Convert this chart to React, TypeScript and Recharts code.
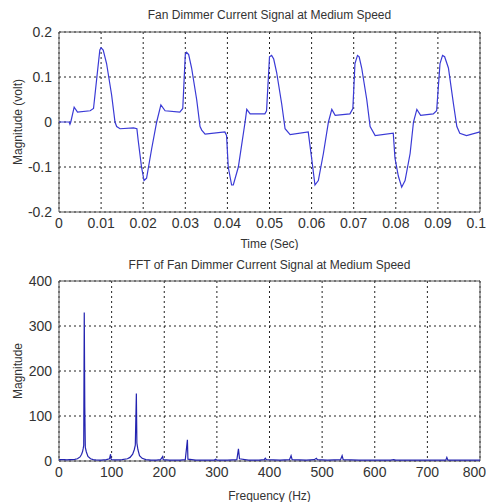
import { LineChart, Line, XAxis, YAxis, CartesianGrid, ReferenceArea } from "recharts";

// time-domain signal
const timeSec = [
  0, 0.0024, 0.0026, 0.0028, 0.0036, 0.0044, 0.0074, 0.0082, 0.009, 0.0097, 0.01, 0.0105, 0.0113, 0.0125, 0.0133, 0.0137,
  0.0145, 0.0177, 0.0185, 0.0188, 0.0196, 0.0202, 0.0208, 0.022, 0.0232, 0.0242, 0.0252, 0.0287, 0.0294, 0.03,
  0.0303, 0.0308, 0.0315, 0.0327, 0.0335, 0.0339, 0.0347, 0.0394, 0.0398, 0.0402, 0.041, 0.0414, 0.0426, 0.0442, 0.0446,
  0.0454, 0.0489, 0.0493, 0.05, 0.0505, 0.051, 0.0517, 0.0529, 0.0537, 0.0549, 0.0592, 0.06, 0.0608, 0.0616, 0.0628,
  0.064, 0.0648, 0.0656, 0.0691, 0.0698, 0.0703, 0.0709, 0.0713, 0.0719, 0.0731, 0.0739, 0.0751, 0.0794, 0.0798, 0.0806,
  0.0814, 0.0822, 0.0834, 0.0842, 0.085, 0.0859, 0.0889, 0.0897, 0.0905, 0.0911, 0.0916, 0.0925, 0.0937, 0.0945, 0.0952,
  0.0968, 0.1,
];
const volts = [
  0, 0, -0.005, 0, 0.033, 0.022, 0.025, 0.03, 0.1, 0.16, 0.165, 0.16, 0.13, 0.06, 0, -0.01,
  -0.015, -0.013, -0.015, -0.04, -0.1, -0.13, -0.125, -0.06, 0, 0.038, 0.025, 0.022, 0.03, 0.15,
  0.155, 0.15, 0.12, 0.05, -0.01, -0.018, -0.027, -0.022, -0.03, -0.1, -0.14, -0.14, -0.1, 0, 0.028,
  0.018, 0.018, 0.025, 0.145, 0.148, 0.14, 0.11, 0.04, -0.015, -0.028, -0.022, -0.08, -0.14, -0.13, -0.07,
  0, 0.028, 0.015, 0.018, 0.03, 0.13, 0.148, 0.145, 0.12, 0.05, -0.01, -0.03, -0.025, -0.08, -0.12,
  -0.145, -0.13, -0.07, 0, 0.028, 0.015, 0.018, 0.025, 0.13, 0.148, 0.145, 0.12, 0.04, -0.01, -0.025,
  -0.03, -0.022,
];

// spectrum
const freqHz = [
  0, 5, 10, 15, 20, 25, 30, 35, 40, 43, 45, 46, 47, 48, 49, 50, 52, 55, 60, 65, 70, 80, 90, 96, 98, 99, 100, 110,
  120, 130, 135, 140, 143, 145, 147, 148, 150, 153, 158, 165, 175, 185, 193, 197, 198, 210, 230, 240, 244, 245,
  260, 280, 295, 298, 300, 320, 338, 341, 343, 360, 380, 390, 392, 394, 420, 438, 441, 443, 470, 485, 489, 491,
  510, 535, 538, 540, 570, 600, 630, 636, 640, 680, 700, 735, 737, 739, 770, 800,
];
const fftMag = [
  3, 3, 3, 2.5, 3, 3, 3.5, 5, 9, 15, 22, 28, 35, 330, 120, 30, 20, 10, 5, 3, 2.5, 2, 3, 5, 15, 4, 3, 2.5,
  3, 5, 8, 15, 25, 35, 150, 40, 25, 12, 6, 3, 2, 2, 3, 10, 3, 2, 2, 3, 47, 4,
  2, 2, 2, 4, 2, 2, 3, 27, 5, 2, 2, 3, 6, 3, 2, 3, 12, 3, 2, 3, 6, 3,
  2, 3, 12, 3, 2, 2, 2, 3, 2, 2, 2, 2, 8, 2, 2, 2,
];

const timeTicks = [0, 0.01, 0.02, 0.03, 0.04, 0.05, 0.06, 0.07, 0.08, 0.09, 0.1];
const voltTicks = [-0.2, -0.1, 0, 0.1, 0.2];
const freqTicks = [0, 100, 200, 300, 400, 500, 600, 700, 800];
const magTicks = [0, 100, 200, 300, 400];

const signalData = timeSec.map((t, i) => ({ t, v: volts[i] }));
const fftData = freqHz.map((f, i) => ({ f, m: fftMag[i] }));

const FONT_NARROW = "'Liberation Sans Narrow', 'Liberation Sans', Arial, sans-serif";
const tickFont = { fill: "#333", fontSize: 14, fontFamily: FONT_NARROW };
const labelFont = { fill: "#333", fontSize: 12, fontFamily: "'Liberation Sans', Arial, sans-serif" };

// x tick that keeps the last label inside the picture
const makeXTick = (last: number) => (props: any) => {
  const { x, y, payload } = props;
  const isLast = payload.value === last;
  return (
    <text
      x={isLast ? 486 : x}
      y={y}
      dy="0.71em"
      textAnchor={isLast ? "end" : "middle"}
      fill={tickFont.fill}
      fontSize={tickFont.fontSize}
      fontFamily={FONT_NARROW}
    >
      {String(payload.value)}
    </text>
  );
};

const titleStyle = (top: number) => ({
  position: "absolute" as const,
  top,
  left: 59,
  width: 421,
  textAlign: "center" as const,
  fontSize: 12,
  color: "#333",
  fontFamily: "'Liberation Sans', Arial, sans-serif",
});

export default function App() {
  return (
    <div style={{ position: "absolute", left: 0, top: 0, width: 486, height: 502, background: "#fff" }}>
      <div style={titleStyle(8)}>Fan Dimmer Current Signal at Medium Speed</div>
      <div style={{ position: "absolute", left: 0, top: 0 }}>
        <LineChart width={486} height={250} data={signalData} margin={{ top: 32, right: 6, left: 0, bottom: 2 }}>
          <CartesianGrid stroke="#222" strokeDasharray="2 3" />
          <XAxis
            dataKey="t"
            type="number"
            domain={[0, 0.1]}
            ticks={timeTicks}
            tick={makeXTick(0.1)}
            tickLine={false}
            tickSize={0}
            tickMargin={6}
            axisLine={false}
            height={36}
            interval={0}
            label={{ value: "Time (Sec)", position: "insideBottom", offset: 0, style: labelFont }}
          />
          <YAxis
            type="number"
            domain={[-0.2, 0.2]}
            ticks={voltTicks}
            tickFormatter={(v: number) => String(v)}
            tick={tickFont}
            tickLine={false}
            tickSize={0}
            tickMargin={7}
            axisLine={false}
            width={59}
            interval={0}
            label={{ value: "Magnitude (volt)", angle: -90, position: "insideLeft", offset: 18, style: { ...labelFont, textAnchor: "middle" } }}
          />
          <ReferenceArea x1={0} x2={0.1} y1={-0.2} y2={0.2} fill="none" stroke="#555" strokeWidth={1} />
          <Line type="linear" dataKey="v" stroke="#3a3ad6" strokeWidth={1.2} dot={false} isAnimationActive={false} />
        </LineChart>
      </div>

      <div style={titleStyle(258)}>FFT of Fan Dimmer Current Signal at Medium Speed</div>
      <div style={{ position: "absolute", left: 0, top: 250 }}>
        <LineChart width={486} height={252} data={fftData} margin={{ top: 31, right: 6, left: 0, bottom: 2 }}>
          <CartesianGrid stroke="#222" strokeDasharray="2 3" />
          <XAxis
            dataKey="f"
            type="number"
            domain={[0, 800]}
            ticks={freqTicks}
            tick={makeXTick(800)}
            tickLine={false}
            tickSize={0}
            tickMargin={6}
            axisLine={false}
            height={39}
            interval={0}
            label={{ value: "Frequency (Hz)", position: "insideBottom", offset: 0, style: labelFont }}
          />
          <YAxis
            type="number"
            domain={[0, 400]}
            ticks={magTicks}
            tick={tickFont}
            tickLine={false}
            tickSize={0}
            tickMargin={7}
            axisLine={false}
            width={59}
            interval={0}
            label={{ value: "Magnitude", angle: -90, position: "insideLeft", offset: 18, style: { ...labelFont, textAnchor: "middle" } }}
          />
          <ReferenceArea x1={0} x2={800} y1={0} y2={400} fill="none" stroke="#555" strokeWidth={1} />
          <Line type="linear" dataKey="m" stroke="#2424b0" strokeWidth={1.2} dot={false} isAnimationActive={false} />
        </LineChart>
      </div>
    </div>
  );
}
